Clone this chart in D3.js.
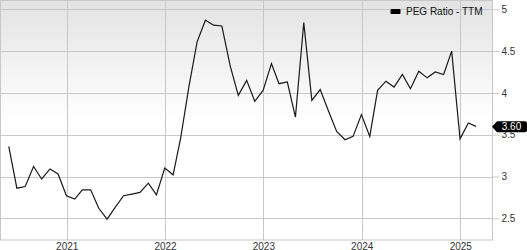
<!DOCTYPE html>
<html><head><meta charset="utf-8">
<script src="https://cdn.jsdelivr.net/npm/d3@7"></script>
<style>
html,body{margin:0;padding:0;background:#fff;}
svg{display:block;font-family:"Liberation Sans",Arial,sans-serif;}
</style></head>
<body><svg id="c" width="527" height="250"></svg>
<script>
const months = ["2020-05","2020-06","2020-07","2020-08","2020-09","2020-10","2020-11","2020-12",
"2021-01","2021-02","2021-03","2021-04","2021-05","2021-06","2021-07","2021-08","2021-09","2021-10","2021-11","2021-12",
"2022-01","2022-02","2022-03","2022-04","2022-05","2022-06","2022-07","2022-08","2022-09","2022-10","2022-11","2022-12",
"2023-01","2023-02","2023-03","2023-04","2023-05","2023-06","2023-07","2023-08","2023-09","2023-10","2023-11","2023-12",
"2024-01","2024-02","2024-03","2024-04","2024-05","2024-06","2024-07","2024-08","2024-09","2024-10","2024-11","2024-12",
"2025-01","2025-02"];
const pegValues = [3.36,2.86,2.88,3.12,2.97,3.09,3.03,2.77,
2.73,2.84,2.84,2.62,2.49,2.63,2.77,2.79,2.81,2.92,2.78,3.10,
3.02,3.46,4.08,4.61,4.87,4.81,4.80,4.32,3.97,4.15,3.90,4.03,
4.35,4.11,4.13,3.71,4.84,3.91,4.04,3.78,3.54,3.44,3.48,3.74,
3.48,4.03,4.14,4.07,4.22,4.05,4.26,4.18,4.25,4.22,4.50,3.45,
3.64,3.60];
const yTicks = [2.5,3,3.5,4,4.5,5];
const xTickYears = [2021,2022,2023,2024,2025];
const seriesName = "PEG Ratio - TTM";
const lastLabel = "3.60";

const svg = d3.select("#c");
const L = 0.5, R = 492.5, T = 0.5, B = 240;
// month-end dates
const dates = months.map(m => { const [y, mo] = m.split("-").map(Number); return new Date(y, mo, 0); });
const x = d3.scaleTime().domain([new Date(2021,0,1), new Date(2025,0,1)]).range([66.7, 460.3]);
const y = d3.scaleLinear().domain([2.5, 5]).range([218.3, 9.3]);

const defs = svg.append("defs");
const g = defs.append("linearGradient").attr("id","bg").attr("x1",0).attr("y1",0).attr("x2",0).attr("y2",1);
g.append("stop").attr("offset","0%").attr("stop-color","#e3e3e3");
g.append("stop").attr("offset","50%").attr("stop-color","#ffffff");
g.append("stop").attr("offset","100%").attr("stop-color","#ffffff");

svg.append("rect").attr("x",L).attr("y",T).attr("width",R-L).attr("height",B-T)
  .attr("fill","url(#bg)");

// grid
svg.append("g").selectAll("line").data(yTicks).join("line")
  .attr("x1",L).attr("x2",R).attr("y1",d=>Math.round(y(d))+0.5).attr("y2",d=>Math.round(y(d))+0.5)
  .attr("stroke","#c8c8c8").attr("stroke-width",1);
svg.append("g").selectAll("line").data(xTickYears).join("line")
  .attr("y1",T).attr("y2",B).attr("x1",d=>Math.round(x(new Date(d,0,1)))+0.5).attr("x2",d=>Math.round(x(new Date(d,0,1)))+0.5)
  .attr("stroke","#c8c8c8").attr("stroke-width",1);

// border
svg.append("rect").attr("x",L).attr("y",T).attr("width",R-L).attr("height",B-T)
  .attr("fill","none").attr("stroke","#c8c8c8").attr("stroke-width",1);

// y axis via d3 axis
const yAxis = d3.axisRight(y).tickValues(yTicks).tickSize(7).tickPadding(2)
  .tickFormat(d=>d3.format("")(d));
const ya = svg.append("g").attr("transform",`translate(${R},0)`).call(yAxis);
ya.select(".domain").remove();
ya.selectAll(".tick line").attr("stroke","#c8c8c8");
ya.selectAll(".tick text").attr("fill","#333").attr("font-size",10).attr("font-family","Liberation Sans, Arial, sans-serif");

// x labels
const xAxis = d3.axisBottom(x).tickValues(xTickYears.map(d=>new Date(d,0,1))).tickSize(0).tickPadding(3)
  .tickFormat(d3.timeFormat("%Y"));
const xa = svg.append("g").attr("transform",`translate(0,${B})`).call(xAxis);
xa.select(".domain").remove();
xa.selectAll(".tick text").attr("fill","#333").attr("font-size",10).attr("font-family","Liberation Sans, Arial, sans-serif");

// line
const line = d3.line().x((d,i)=>x(dates[i])).y(d=>y(d));
svg.append("path").datum(pegValues).attr("d",line).attr("fill","none")
  .attr("stroke","#1a1a1a").attr("stroke-width",1.2).attr("stroke-linejoin","miter");

// last value label
const ly = y(pegValues[pegValues.length-1]) + 0.5;
const lx = R - 0.5;
svg.append("path").attr("d",`M${lx},${ly} L${lx+5},${ly-5.5} L${525},${ly-5.5} Q527,${ly-5.5} 527,${ly-3.5} L527,${ly+3.5} Q527,${ly+5.5} 525,${ly+5.5} L${lx+5},${ly+5.5} Z`)
  .attr("fill","#000");
svg.append("text").attr("x",511.5).attr("y",ly).attr("dy","0.35em").attr("text-anchor","middle")
  .attr("fill","#fff").attr("font-size",10).text(lastLabel);

// legend
svg.append("rect").attr("x",390.5).attr("y",9).attr("width",10).attr("height",5).attr("rx",1).attr("fill","#000");
svg.append("text").attr("x",406).attr("y",15).attr("font-size",10).attr("fill","#111").text(seriesName);
</script></body></html>
